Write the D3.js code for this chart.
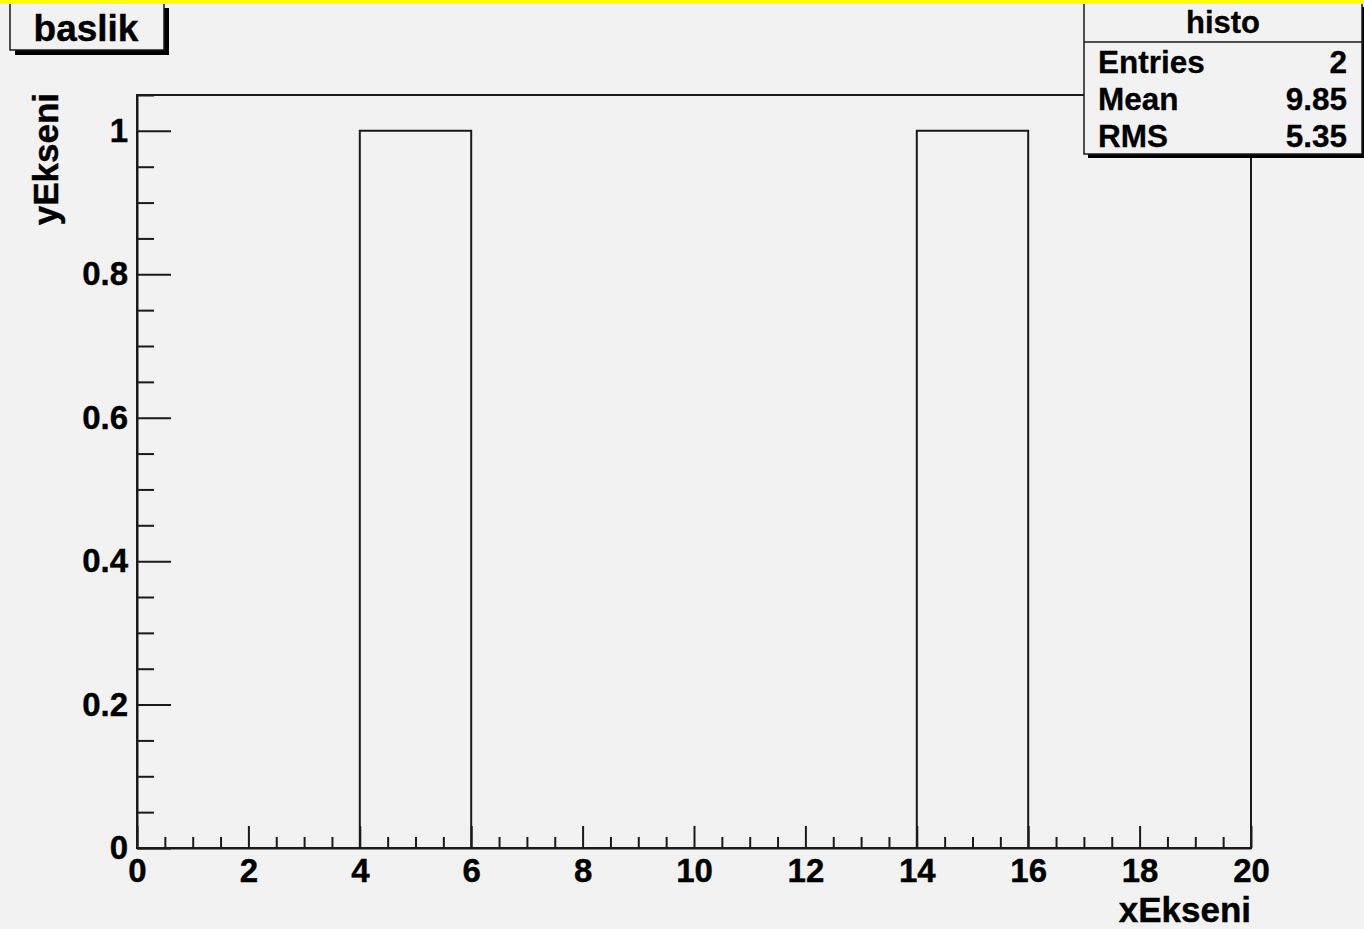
<!DOCTYPE html>
<html>
<head>
<meta charset="utf-8">
<script src="https://cdn.jsdelivr.net/npm/d3@7"></script>
<style>
  html, body { margin: 0; padding: 0; background: #f2f2f2; }
  svg { display: block; }
  text { font-family: "Liberation Sans", Arial, Helvetica, sans-serif; font-weight: bold; fill: #000; }
</style>
</head>
<body>
<svg id="chart" width="1364" height="929"></svg>
<script>
// Histogram "histo": 10 bins of width 2 over [0, 20]
const binEdges = [0, 2, 4, 6, 8, 10, 12, 14, 16, 18, 20];
const binCounts = [0, 0, 1, 0, 0, 0, 0, 1, 0, 0];

// Axis ticks
const xMajorTicks = [0, 2, 4, 6, 8, 10, 12, 14, 16, 18, 20];
const yMajorTicks = [0, 0.2, 0.4, 0.6, 0.8, 1];

// Statistics box
const statNames = ["Entries", "Mean", "RMS"];
const statValues = ["2", "9.85", "5.35"];

const histTitle = "baslik";
const histName = "histo";
const xTitle = "xEkseni";
const yTitle = "yEkseni";

const W = 1364, H = 929;
const frame = { left: 137, right: 1251, top: 95, bottom: 848 };
const ink = "#1a1a1a";
const labelFont = "Liberation Sans, Arial, sans-serif";

const svg = d3.select("#chart");

svg.append("rect").attr("x", 0).attr("y", 0).attr("width", W).attr("height", H).attr("fill", "#f2f2f2");

const x = d3.scaleLinear().domain([0, 20]).range([frame.left, frame.right]);
const y = d3.scaleLinear().domain([0, 1.05]).range([frame.bottom, frame.top]);

// minor tick positions
const xMinor = d3.range(0, 20.0001, 0.5).filter(v => !xMajorTicks.some(t => Math.abs(t - v) < 1e-6));
const yMinor = d3.range(0, 1.0501, 0.05).filter(v => !yMajorTicks.some(t => Math.abs(t - v) < 1e-6));

// Frame box
svg.append("rect")
  .attr("x", frame.left).attr("y", frame.top)
  .attr("width", frame.right - frame.left).attr("height", frame.bottom - frame.top)
  .attr("fill", "none").attr("stroke", ink).attr("stroke-width", 2);

// Histogram outline as a step line
const stepPts = binEdges.map((e, i) => [e, i < binCounts.length ? binCounts[i] : binCounts[binCounts.length - 1]]);
const stepLine = d3.line().x(d => x(d[0])).y(d => y(d[1])).curve(d3.curveStepAfter);
svg.append("path")
  .attr("d", stepLine(stepPts))
  .attr("fill", "none").attr("stroke", ink).attr("stroke-width", 2);

function styleLabels(sel) {
  sel.attr("font-size", 33).attr("font-family", labelFont).attr("font-weight", "bold")
     .attr("fill", "#000").attr("stroke", "#000").attr("stroke-width", 0.4);
}

// X axis: major ticks with labels, minor ticks without
const xAxis = svg.append("g").attr("transform", `translate(0,${frame.bottom})`)
  .call(d3.axisBottom(x).tickValues(xMajorTicks).tickSizeInner(-22).tickSizeOuter(0).tickPadding(11).tickFormat(d3.format("d")));
xAxis.select(".domain").attr("stroke", ink).attr("stroke-width", 2);
xAxis.selectAll(".tick line").attr("stroke", ink).attr("stroke-width", 2);
styleLabels(xAxis.selectAll("text"));

const xAxisMinor = svg.append("g").attr("transform", `translate(0,${frame.bottom})`)
  .call(d3.axisBottom(x).tickValues(xMinor).tickSizeInner(-11).tickSizeOuter(0).tickFormat(""));
xAxisMinor.select(".domain").remove();
xAxisMinor.selectAll(".tick line").attr("stroke", ink).attr("stroke-width", 2);

// Y axis
const yAxis = svg.append("g").attr("transform", `translate(${frame.left},0)`)
  .call(d3.axisLeft(y).tickValues(yMajorTicks).tickSizeInner(-34).tickSizeOuter(0).tickPadding(9).tickFormat(d => d === 0 || d === 1 ? d3.format("d")(d) : d3.format(".1f")(d)));
yAxis.select(".domain").attr("stroke", ink).attr("stroke-width", 2);
yAxis.selectAll(".tick line").attr("stroke", ink).attr("stroke-width", 2);
styleLabels(yAxis.selectAll("text"));

const yAxisMinor = svg.append("g").attr("transform", `translate(${frame.left},0)`)
  .call(d3.axisLeft(y).tickValues(yMinor).tickSizeInner(-17).tickSizeOuter(0).tickFormat(""));
yAxisMinor.select(".domain").remove();
yAxisMinor.selectAll(".tick line").attr("stroke", ink).attr("stroke-width", 2);

// Axis titles
svg.append("text")
  .attr("x", frame.right).attr("y", 922)
  .attr("text-anchor", "end").attr("font-size", 35)
  .attr("stroke", "#000").attr("stroke-width", 0.4)
  .text(xTitle);

svg.append("text")
  .attr("transform", `translate(58,${frame.top - 2}) rotate(-90)`)
  .attr("text-anchor", "end").attr("font-size", 35)
  .attr("stroke", "#000").attr("stroke-width", 0.4)
  .text(yTitle);

// Title box with drop shadow
const tb = { x: 10, y: 3, w: 154, h: 47 };
svg.append("rect").attr("x", tb.x + 5).attr("y", tb.y + 5).attr("width", tb.w).attr("height", tb.h).attr("fill", "#000");
svg.append("rect").attr("x", tb.x).attr("y", tb.y).attr("width", tb.w).attr("height", tb.h)
  .attr("fill", "#f2f2f2").attr("stroke", ink).attr("stroke-width", 1.5);
svg.append("text")
  .attr("x", tb.x + tb.w / 2 - 1).attr("y", 41)
  .attr("text-anchor", "middle").attr("font-size", 37)
  .attr("stroke", "#000").attr("stroke-width", 0.4)
  .text(histTitle);

// Statistics box with drop shadow
const sb = { x: 1084, y: 3, w: 278, h: 151 };
svg.append("rect").attr("x", sb.x + 4).attr("y", sb.y + 4).attr("width", sb.w + 10).attr("height", sb.h).attr("fill", "#000");
svg.append("rect").attr("x", sb.x).attr("y", sb.y).attr("width", sb.w).attr("height", sb.h)
  .attr("fill", "#f2f2f2").attr("stroke", ink).attr("stroke-width", 1.5);
svg.append("line").attr("x1", sb.x).attr("x2", sb.x + sb.w).attr("y1", 42).attr("y2", 42)
  .attr("stroke", ink).attr("stroke-width", 1.5);
svg.append("text")
  .attr("x", sb.x + sb.w / 2).attr("y", 33)
  .attr("text-anchor", "middle").attr("font-size", 31)
  .attr("stroke", "#000").attr("stroke-width", 0.3)
  .text(histName);

const rowY = d3.scalePoint().domain(statNames).range([73, 147]);
svg.selectAll("text.statName").data(statNames).join("text")
  .attr("class", "statName")
  .attr("x", 1098).attr("y", d => rowY(d))
  .attr("font-size", 31.5)
  .attr("stroke", "#000").attr("stroke-width", 0.3)
  .text(d => d);
svg.selectAll("text.statValue").data(statValues).join("text")
  .attr("class", "statValue")
  .attr("x", 1347).attr("y", (d, i) => rowY(statNames[i]))
  .attr("text-anchor", "end").attr("font-size", 31.5)
  .attr("stroke", "#000").attr("stroke-width", 0.3)
  .text(d => d);

// Highlight strip along the top edge of the canvas
svg.append("rect").attr("x", 0).attr("y", 0).attr("width", W).attr("height", 4).attr("fill", "#ffff00");
</script>
</body>
</html>
